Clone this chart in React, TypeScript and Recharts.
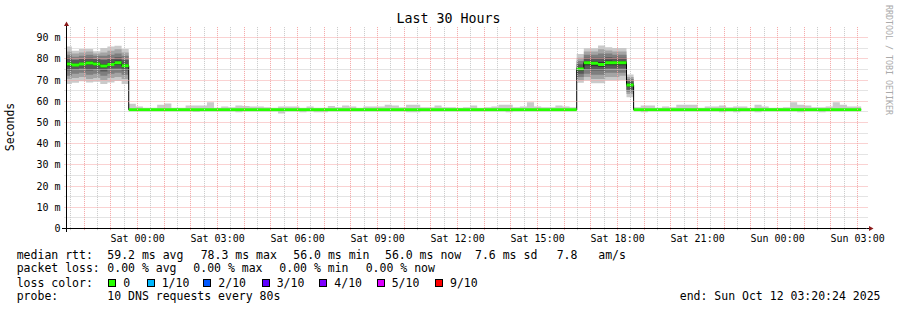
import { ComposedChart, Area, XAxis, YAxis, ReferenceLine, ReferenceDot } from 'recharts';

// time is in minutes relative to Sat 00:00, smokeping rra bins are 16 min wide
const binMinutes = 16;
const timeStart = -160;
const timeEnd = 1640;

const xTicks = [0, 180, 360, 540, 720, 900, 1080, 1260, 1440, 1620];
const xTickLabels = ['Sat 00:00', 'Sat 03:00', 'Sat 06:00', 'Sat 09:00', 'Sat 12:00', 'Sat 15:00', 'Sat 18:00', 'Sat 21:00', 'Sun 00:00', 'Sun 03:00'];
const yTicks = [0, 10, 20, 30, 40, 50, 60, 70, 80, 90];

// first high-latency stretch (Fri evening)
const rise1Start = -164;
const rise1Median = [77.6, 77.1, 77.6, 78.1, 77.6, 76.7, 77.4, 78.2, 76.8];
const rise1Pings = [
  [68.2, 70.5, 72.0, 74.5, 76.5, 78.5, 80.5, 82.0, 83.5, 85.8],
  [68.7, 71.0, 73.0, 75.0, 76.5, 77.8, 79.5, 81.0, 82.5, 83.9],
  [69.4, 71.5, 73.5, 75.5, 77.0, 78.2, 80.0, 81.5, 83.0, 84.7],
  [68.9, 70.5, 72.5, 74.5, 77.2, 79.0, 80.5, 82.0, 83.5, 84.7],
  [69.2, 71.0, 73.0, 75.0, 76.8, 78.4, 80.0, 81.5, 82.5, 83.6],
  [68.2, 70.0, 72.0, 74.0, 75.8, 77.6, 79.5, 81.5, 83.0, 85.1],
  [68.9, 71.0, 73.0, 75.5, 76.6, 78.2, 80.0, 82.0, 83.8, 85.8],
  [69.6, 71.5, 73.5, 75.5, 77.2, 79.2, 80.8, 82.5, 84.5, 86.2],
  [68.2, 70.5, 72.5, 74.5, 76.0, 77.6, 79.5, 81.5, 83.0, 84.7],
];

// quiet stretch, Fri 23:40 - Sat 16:28
const flat1Start = -20;
const flat1Median = [
  56.0, 56.0, 56.0, 56.0, 56.0, 56.0, 56.0, 56.0, 56.0, 56.0, 56.0, 56.0, 56.0, 56.0, 56.0, 56.0,
  56.0, 56.0, 56.0, 56.0, 56.0, 56.0, 56.0, 56.0, 56.0, 56.0, 56.0, 56.0, 56.0, 56.0, 56.0, 56.0,
  56.0, 56.0, 56.0, 56.0, 56.0, 56.0, 56.0, 56.0, 56.0, 56.0, 56.0, 56.0, 56.0, 56.0, 56.0, 56.0,
  56.0, 56.0, 56.0, 56.0, 56.0, 56.0, 56.0, 56.0, 56.0, 56.0, 56.0, 56.0, 56.0, 56.0, 56.0,
];
const flat1Max = [
  58.8, 57.5, 56.9, 56.9, 58.4, 59.0, 56.9, 56.9, 58.0, 58.0, 58.0, 59.5, 56.9, 57.5, 57.2, 58.0,
  57.8, 57.5, 57.5, 57.2, 56.9, 57.5, 57.5, 57.5, 57.0, 57.5, 57.0, 56.9, 57.8, 57.2, 58.0, 57.5,
  57.0, 57.5, 57.5, 57.5, 58.4, 58.0, 57.2, 58.4, 58.4, 57.2, 57.2, 58.0, 57.2, 57.2, 56.9, 57.2,
  58.0, 56.9, 57.2, 57.5, 58.4, 58.4, 57.2, 57.5, 59.5, 57.5, 57.2, 57.2, 58.0, 57.5, 57.2,
];
const flat1Min = [
  55.8, 55.8, 55.8, 55.8, 55.8, 55.8, 55.8, 55.8, 55.8, 55.0, 55.8, 55.8, 55.8, 55.8, 55.8, 54.8,
  55.8, 55.8, 55.8, 55.8, 55.8, 54.3, 55.8, 55.8, 54.8, 55.8, 54.8, 54.8, 55.8, 55.8, 55.8, 55.8,
  55.8, 55.8, 55.8, 55.8, 55.8, 55.8, 55.8, 54.8, 54.8, 55.8, 55.8, 55.8, 55.8, 55.8, 55.8, 55.8,
  55.8, 55.8, 55.8, 55.8, 55.8, 54.8, 55.8, 55.8, 55.8, 55.8, 55.8, 55.8, 55.8, 55.8, 55.8,
];

// second high-latency stretch (Sat afternoon)
const rise2Start = 988;
const rise2Median = [75.3, 78.2, 77.9, 77.4, 78.2, 78.2, 78.2, 67.7];
const rise2Pings = [
  [68.8, 70.0, 71.5, 73.0, 74.5, 76.0, 77.5, 79.0, 80.5, 82.3],
  [69.8, 71.5, 73.0, 75.0, 77.0, 79.0, 80.5, 82.0, 83.5, 85.0],
  [68.5, 70.5, 72.5, 74.5, 76.5, 78.8, 80.5, 82.0, 83.5, 85.0],
  [68.5, 70.5, 72.5, 74.5, 76.2, 78.5, 80.5, 82.5, 84.5, 86.3],
  [69.8, 71.5, 73.5, 75.5, 77.0, 79.2, 80.8, 82.5, 84.0, 85.5],
  [69.8, 71.5, 73.5, 75.5, 77.0, 79.0, 80.5, 82.0, 83.5, 85.2],
  [70.1, 72.0, 73.5, 75.5, 77.0, 79.0, 80.5, 82.0, 83.5, 85.2],
  [61.9, 63.5, 64.5, 65.5, 67.0, 68.5, 69.5, 70.5, 71.5, 72.6],
];

// quiet stretch until the end
const flat2Start = 1116;
const flat2Median = [
  56.0, 56.0, 56.0, 56.0, 56.0, 56.0, 56.0, 56.0, 56.0, 56.0, 56.0, 56.0, 56.0, 56.0, 56.0, 56.0,
  56.0, 56.0, 56.0, 56.0, 56.0, 56.0, 56.0, 56.0, 56.0, 56.0, 56.0, 56.0, 56.0, 56.0, 56.0, 56.0,
];
const flat2Max = [
  57.2, 58.0, 58.0, 57.0, 57.5, 57.2, 58.4, 58.4, 58.4, 57.0, 57.5, 57.5, 58.0, 57.2, 57.5, 57.5,
  57.0, 58.4, 57.5, 57.0, 57.0, 57.2, 59.5, 58.4, 58.0, 57.2, 57.2, 57.5, 59.5, 58.4, 57.5, 57.5,
];
const flat2Min = [
  55.8, 54.8, 55.8, 55.8, 55.8, 55.8, 55.8, 55.8, 55.8, 55.8, 55.8, 55.8, 54.8, 55.8, 54.8, 55.8,
  55.8, 54.8, 55.8, 55.8, 55.8, 55.8, 55.8, 54.8, 55.8, 55.8, 54.8, 55.8, 55.8, 55.8, 55.8, 55.8,
];

const smokeColors = ['#cacaca', '#a4a4a4', '#7e7e7e', '#585858', '#323232'];
const medianColor = '#26ff00';

const rttStats = ['59.2 ms avg', '78.3 ms max', '56.0 ms min', '56.0 ms now', '7.6 ms sd', '7.8   am/s'];
const lossStats = ['0.00 % avg', '0.00 % max', '0.00 % min', '0.00 % now'];
const lossLabels = ['0', '1/10', '2/10', '3/10', '4/10', '5/10', '9/10'];
const lossColors = ['#26ff00', '#00b8ff', '#0059ff', '#5e00ff', '#7e00ff', '#dd00ff', '#ff0000'];

const rttLeft = [107.3, 200.7, 293.3, 385, 475, 556.7];
const lossLeft = [107.3, 193.3, 279.3, 365.7];
const boxLeft = [108.3, 146.7, 203.3, 261.7, 319.3, 376.7, 435];

const makeRow = (t: number, median: number, p: number[]) => ({
  t,
  median,
  green: [median - 0.7, median + 0.7],
  band1: [p[0], p[9]],
  band2: [p[1], p[8]],
  band3: [p[2], p[7]],
  band4: [p[3], p[6]],
  band5: [p[4], p[5]],
});

const rows: any[] = [];
const addBins = (start: number, medians: number[], pings: number[][]) => {
  medians.forEach((m, i) => rows.push(makeRow(start + i * binMinutes, m, pings[i])));
};
const flatPings = (medians: number[], lows: number[], highs: number[]) =>
  medians.map((m, i) => [lows[i], m, m, m, m, m, m, m, m, highs[i]]);

addBins(rise1Start, rise1Median, rise1Pings);
addBins(flat1Start, flat1Median, flatPings(flat1Median, flat1Min, flat1Max));
addBins(rise2Start, rise2Median, rise2Pings);
addBins(flat2Start, flat2Median, flatPings(flat2Median, flat2Min, flat2Max));
// close the last step
rows.push({ ...rows[rows.length - 1], t: rows[rows.length - 1].t + binMinutes });

const hourLines: number[] = [];
const halfHourLines: number[] = [];
for (let m = -150; m < timeEnd; m += 30) {
  if (m % 60 === 0) hourLines.push(m);
  else halfHourLines.push(m);
}
const majorY = [10, 20, 30, 40, 50, 60, 70, 80, 90];
const minorY = [5, 15, 25, 35, 45, 55, 65, 75, 85];

const mono = '"DejaVu Sans Mono", monospace';
const arrowColor = '#8b1a1a';
const majorColor = '#f4a4a4';
const minorColor = '#c8c8c8';

// snap to the pixel grid so the 1-on-1-off dots stay crisp, rrdtool style
const snap = (v: number) => Math.floor(v) + 0.5;

const gridShape = (color: string) => (p: any) => {
  const horizontal = Math.abs(p.y1 - p.y2) < 0.01;
  if (horizontal) {
    const y = snap(p.y1);
    return <line x1={Math.min(p.x1, p.x2) - 2} x2={Math.max(p.x1, p.x2) + 2} y1={y} y2={y} stroke={color} strokeDasharray="1 1" />;
  }
  const x = snap(p.x1);
  return <line x1={x} x2={x} y1={Math.min(p.y1, p.y2)} y2={Math.max(p.y1, p.y2) + 2} stroke={color} strokeDasharray="1 1" />;
};

const TopArrow = (p: any) => (
  <g>
    <line x1={p.cx} y1={p.cy} x2={p.cx} y2={p.cy - 3} stroke="#000" />
    <path d={`M${p.cx - 2.5},${p.cy - 1} L${p.cx + 2.5},${p.cy - 1} L${p.cx},${p.cy - 5.5} Z`} fill={arrowColor} />
  </g>
);

const RightArrow = (p: any) => (
  <g>
    <line x1={p.cx} y1={p.cy} x2={p.cx + 3} y2={p.cy} stroke="#000" />
    <path d={`M${p.cx + 2.5},${p.cy - 2.5} L${p.cx + 2.5},${p.cy + 2.5} L${p.cx + 7},${p.cy} Z`} fill={arrowColor} />
  </g>
);

const OriginStubs = (p: any) => (
  <g>
    <line x1={p.cx - 4.5} y1={p.cy} x2={p.cx} y2={p.cy} stroke="#000" />
    <line x1={p.cx} y1={p.cy} x2={p.cx} y2={p.cy + 3.5} stroke="#000" />
  </g>
);

const legendText = { position: 'absolute' as const, fontSize: 11.5, lineHeight: '14px', whiteSpace: 'pre' as const, color: '#000' };

export default function App() {
  return (
    <div style={{ position: 'absolute', left: 0, top: 0, width: 897, height: 310, background: '#fff', fontFamily: mono, overflow: 'hidden' }}>
      <div style={{ position: 'absolute', left: 0, top: 0 }}>
        <ComposedChart width={897} height={310} data={rows} margin={{ top: 27.1, right: 30.5, bottom: 61.5, left: 6.5 }}>
          <XAxis
            dataKey="t"
            type="number"
            domain={[timeStart, timeEnd]}
            allowDataOverflow
            ticks={xTicks}
            tickFormatter={(v, i) => xTickLabels[i]}
            height={20}
            tickSize={3}
            tickMargin={3}
            tickLine={false}
            axisLine={{ stroke: '#000' }}
            tick={{ fontFamily: mono, fontSize: 10, fill: '#000' }}
          />
          <YAxis
            type="number"
            domain={[0, 95]}
            allowDataOverflow
            ticks={yTicks}
            tickFormatter={(v) => (v === 0 ? '0' : `${v} m`)}
            width={60}
            tickSize={2}
            tickMargin={4}
            tickLine={false}
            axisLine={{ stroke: '#000' }}
            tick={{ fontFamily: mono, fontSize: 10, fill: '#000' }}
          />
          {smokeColors.map((c, i) => (
            <Area
              key={c}
              type="stepAfter"
              dataKey={`band${i + 1}`}
              stroke="none"
              fill={c}
              fillOpacity={1}
              dot={false}
              activeDot={false}
              isAnimationActive={false}
            />
          ))}
          {minorY.map((v) => (
            <ReferenceLine key={`my${v}`} y={v} shape={gridShape(minorColor)} />
          ))}
          {halfHourLines.map((v) => (
            <ReferenceLine key={`mx${v}`} x={v} shape={gridShape(minorColor)} />
          ))}
          {majorY.map((v) => (
            <ReferenceLine key={`My${v}`} y={v} shape={gridShape(majorColor)} />
          ))}
          {hourLines.map((v) => (
            <ReferenceLine key={`Mx${v}`} x={v} shape={gridShape(majorColor)} />
          ))}
          {/* black step outline of the median, the green band sits on top of it */}
          <Area type="stepAfter" dataKey="median" stroke="#000" strokeWidth={1} fill="none" dot={false} activeDot={false} isAnimationActive={false} />
          <Area type="stepAfter" dataKey="green" stroke="none" fill={medianColor} fillOpacity={1} dot={false} activeDot={false} isAnimationActive={false} />
          <ReferenceDot x={timeStart} y={95} r={0} ifOverflow="visible" shape={TopArrow} />
          <ReferenceDot x={timeEnd} y={0} r={0} ifOverflow="visible" shape={RightArrow} />
          <ReferenceDot x={timeStart} y={0} r={0} ifOverflow="visible" shape={OriginStubs} />
        </ComposedChart>
      </div>

      <div style={{ position: 'absolute', left: 0, width: 897, top: 11, textAlign: 'center', fontSize: 13.3, lineHeight: '16px' }}>Last 30 Hours</div>
      <div style={{ position: 'absolute', left: 10, top: 127, fontSize: 11.5, lineHeight: '12px', whiteSpace: 'nowrap', transform: 'translate(-50%, -50%) rotate(-90deg)' }}>Seconds</div>
      <div style={{ position: 'absolute', left: 888.3, top: 60, fontSize: 8.3, lineHeight: '9px', color: '#aaaaaa', whiteSpace: 'nowrap', transform: 'translate(-50%, -50%) rotate(90deg)' }}>RRDTOOL / TOBI OETIKER</div>

      <div style={{ ...legendText, left: 16.7, top: 248 }}>median rtt:</div>
      {rttStats.map((s, i) => (
        <div key={s} style={{ ...legendText, left: rttLeft[i], top: 248 }}>{s}</div>
      ))}
      <div style={{ ...legendText, left: 16.7, top: 261.3 }}>packet loss:</div>
      {lossStats.map((s, i) => (
        <div key={s} style={{ ...legendText, left: lossLeft[i], top: 261.3 }}>{s}</div>
      ))}
      <div style={{ ...legendText, left: 16.7, top: 275.7 }}>loss color:</div>
      {lossLabels.map((s, i) => (
        <div key={s}>
          <div style={{ position: 'absolute', left: boxLeft[i], top: 279, width: 6, height: 6, background: lossColors[i], border: '1px solid #000' }} />
          <div style={{ ...legendText, left: boxLeft[i] + 15, top: 275.7 }}>{s}</div>
        </div>
      ))}
      <div style={{ ...legendText, left: 16.7, top: 289 }}>probe:</div>
      <div style={{ ...legendText, left: 107.3, top: 289 }}>10 DNS requests every 80s</div>
      <div style={{ ...legendText, right: 897 - 880.5, top: 289 }}>end: Sun Oct 12 03:20:24 2025</div>
    </div>
  );
}
